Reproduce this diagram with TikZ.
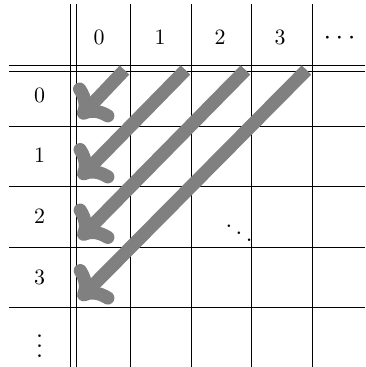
\documentclass[tikz,border=0pt]{standalone}
\usetikzlibrary{arrows.meta}
\begin{document}
\begin{tikzpicture}[x=0.5pt,y=-0.5pt,
  gridline/.style={line width=0.4pt},
  bigarrow/.style={draw=gray, line width=6.6pt, line cap=butt,
    -{Computer Modern Rightarrow[length=14pt,width=26pt]}},
  lab/.style={inner sep=0pt, anchor=base, font=\fontsize{11}{13}\selectfont}]
\useasboundingbox (0,0) rectangle (365,367);
% grid
\foreach \x in {70,76.5,130,191,251,312} \draw[gridline] (\x,4) -- (\x,367);
\foreach \y in {65,71,126,186,247,307} \draw[gridline] (9,\y) -- (365,\y);
% header labels
\node[lab] (c0) at (99,45) {$0$};
\node[lab] (c1) at (160,45) {$1$};
\node[lab] (c2) at (220,45) {$2$};
\node[lab] (c3) at (280,45) {$3$};
\node[lab, scale=1.25] (cd) at (339.5,45) {$\cdots$};
% row labels
\node[lab] (r0) at (39.5,102.5) {$0$};
\node[lab] (r1) at (39.5,163) {$1$};
\node[lab] (r2) at (39.5,223.5) {$2$};
\node[lab] (r3) at (39.5,284) {$3$};
\node[lab, scale=1.25] (rd) at (39.5,357) {$\vdots$};
% diagonal dots
\node[lab, scale=1.2] (dd) at (239,244) {$\ddots$};
% arrows
\coordinate (t1) at (124.5,70);
\coordinate (t2) at (185.5,70);
\coordinate (t3) at (245.5,70);
\coordinate (t4) at (306.5,70);
\coordinate (h1) at (79,118);
\coordinate (h2) at (79,178.5);
\coordinate (h3) at (79,239);
\coordinate (h4) at (79,299.5);
\draw[bigarrow] (t1) -- (h1);
\draw[bigarrow] (t2) -- (h2);
\draw[bigarrow] (t3) -- (h3);
\draw[bigarrow] (t4) -- (h4);
\end{tikzpicture}
\end{document}
